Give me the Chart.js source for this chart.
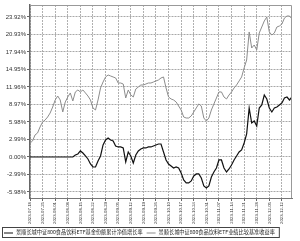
<!DOCTYPE html>
<html>
<head>
<meta charset="utf-8">
<script src="https://cdn.jsdelivr.net/npm/chart.js@4"></script>
<style>
  html, body { margin: 0; padding: 0; background: #fff; }
</style>
</head>
<body>
<canvas id="navChart" width="300" height="241"></canvas>
<script>
// date labels, one every 5 trading days
const dateTicks = [
  '2023-07-18', '2023-07-25', '2023-08-01', '2023-08-08', '2023-08-15', '2023-08-22', '2023-08-29',
  '2023-09-05', '2023-09-12', '2023-09-19', '2023-09-26', '2023-10-10', '2023-10-17', '2023-10-24',
  '2023-10-31', '2023-11-07', '2023-11-14', '2023-11-21', '2023-11-28', '2023-12-05', '2023-12-12'
];

// fund cumulative NAV growth (%), daily
const fundGrowth = [
  0, 0, 0, 0, 0, 0, 0, 0, 0, 0, 0, 0, 0, 0, 0, 0, 0, 0,
  0.34, 0.51, 1.03, 0.68, 0.17, -0.34, -1.20, -1.71, -1.71, -0.68,
  0.17, 2.05, 2.90, 3.25, 2.90, 2.73, 1.88, 1.71, 1.71, 1.54,
  -0.85, 0.85, 0.17, -1.03, 0.34, 1.03, 1.37, 1.54, 1.54, 1.71,
  1.71, 1.88, 2.05, 2.22, 2.22, 0.85, -0.51, -1.20, -1.54, -1.88,
  -1.71, -1.88, -2.73, -3.93, -4.44, -4.44, -4.10, -3.25, -2.90, -2.90,
  -3.59, -4.96, -5.30, -4.96, -3.42, -2.56, -1.88, -0.51, -0.51, -1.88,
  -2.56, -2.05, -1.37, -0.51, 0.17, 0.85, 1.20, 2.39, 3.93, 8.37,
  5.81, 6.15, 5.30, 8.37, 8.88, 10.59, 9.91, 8.37, 7.69, 8.37,
  8.54, 8.88, 9.23, 10.08, 10.25, 9.74, 10.25
];

// benchmark return (%), daily
const benchGrowth = [
  2.39, 2.73, 3.76, 4.10, 5.13, 5.98, 6.32, 6.83, 7.52, 8.54,
  9.74, 10.42, 9.74, 7.69, 9.40, 10.25, 10.94, 9.57, 11.11, 11.45,
  11.11, 11.45, 10.94, 10.42, 9.74, 8.37, 8.03, 9.74, 11.79, 12.81,
  13.67, 14.01, 13.84, 13.67, 13.50, 12.64, 12.64, 12.47, 10.08, 11.45,
  10.60, 10.25, 11.62, 11.96, 12.30, 12.30, 12.47, 12.64, 12.64, 12.81,
  12.99, 13.16, 13.50, 13.67, 11.79, 10.25, 9.91, 9.74, 9.40, 8.71,
  8.03, 6.83, 6.66, 6.66, 7.01, 7.69, 8.37, 9.06, 8.71, 6.66,
  6.15, 6.66, 8.03, 9.06, 10.08, 11.11, 11.11, 10.25, 9.91, 10.59,
  11.11, 11.79, 12.30, 12.99, 13.67, 15.21, 16.57, 21.36, 18.62, 19.14,
  18.28, 21.19, 22.21, 23.24, 23.92, 21.36, 20.84, 21.19, 22.21, 22.38,
  22.72, 23.75, 24.09, 24.09, 23.58
];

const yTicks = [-5.98, -2.99, 0, 2.99, 5.98, 8.97, 11.96, 14.95, 17.94, 20.93, 23.92];
const seriesNames = [
  '景顺长城中证800食品饮料ETF基金份额累计净值增长率',
  '景顺长城中证800食品饮料ETF业绩比较基准收益率'
];

// frame round the plot + boxed legend under the axis
const frameLegend = {
  id: 'frameLegend',
  afterDraw(chart) {
    const { ctx, chartArea: a } = chart;
    ctx.save();
    ctx.strokeStyle = '#999';
    ctx.lineWidth = 1;
    ctx.beginPath();
    ctx.moveTo(a.left, a.top + 0.5);
    ctx.lineTo(a.right - 0.5, a.top + 0.5);
    ctx.lineTo(a.right - 0.5, a.bottom);
    ctx.stroke();

    const y = 232.5;
    let x = 4;
    ctx.font = '5.2px "Noto Sans CJK SC"';
    ctx.textBaseline = 'middle';
    chart.data.datasets.forEach(ds => {
      ctx.strokeStyle = ds.borderColor;
      ctx.lineWidth = 1;
      ctx.beginPath();
      ctx.moveTo(x, y + 0.5);
      ctx.lineTo(x + 9, y + 0.5);
      ctx.stroke();
      ctx.fillStyle = '#222';
      ctx.fillText(ds.label, x + 12, y);
      x += 12 + ctx.measureText(ds.label).width + 4;
    });
    ctx.strokeStyle = '#444';
    ctx.strokeRect(2.5, 227.5, x - 2, 10);
    ctx.restore();
  }
};

const idx = fundGrowth.map((v, i) => i);

new Chart(document.getElementById('navChart'), {
  type: 'line',
  data: {
    datasets: [{
      label: seriesNames[0],
      data: idx.map(i => ({ x: i, y: fundGrowth[i] })),
      borderColor: '#111',
      borderWidth: 1.2,
      pointRadius: 0,
      tension: 0
    }, {
      label: seriesNames[1],
      data: idx.map(i => ({ x: i, y: benchGrowth[i] })),
      borderColor: '#8c8c8c',
      borderWidth: 1,
      pointRadius: 0,
      tension: 0
    }]
  },
  options: {
    responsive: false,
    animation: false,
    layout: { padding: { left: 0, right: 8, top: 5, bottom: 12 } },
    plugins: { legend: { display: false }, tooltip: { enabled: false } },
    scales: {
      x: {
        type: 'linear',
        min: 0,
        max: fundGrowth.length - 1,
        afterFit: s => { s.height = 31; },
        grid: { color: '#b0b0b0', tickLength: 3, tickColor: '#666' },
        border: { color: '#777', dash: [2, 1] },
        ticks: {
          stepSize: 5,
          includeBounds: false,
          autoSkip: false,
          minRotation: 90,
          maxRotation: 90,
          padding: 1,
          color: '#333',
          font: { size: 4.3, family: 'Liberation Sans' },
          callback: v => dateTicks[v / 5]
        }
      },
      y: {
        min: -7.01,
        max: 25.97,
        afterFit: s => { s.width = 30; },
        afterBuildTicks: s => { s.ticks = yTicks.map(v => ({ value: v })); },
        grid: { color: '#a8a8a8', tickLength: 3, tickColor: '#666' },
        border: { color: '#666', width: 1.5, dash: [2, 1] },
        ticks: {
          padding: 1,
          color: '#333',
          font: { size: 6, family: 'Liberation Sans' },
          callback: v => v.toFixed(2) + '%'
        }
      }
    }
  },
  plugins: [frameLegend]
});
</script>
</body>
</html>
